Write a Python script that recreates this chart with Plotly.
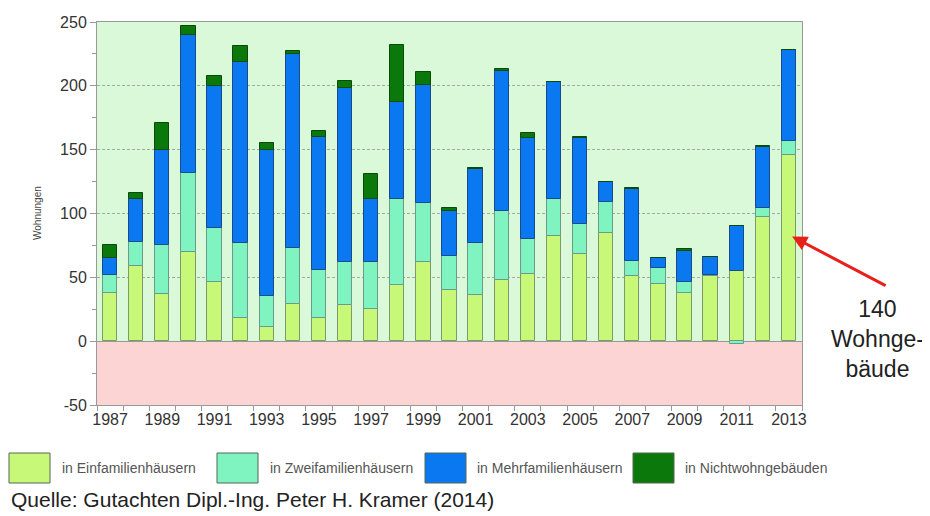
import plotly.graph_objects as go

years = list(range(1987, 2014))
efh = [38, 59, 37, 70, 46, 18, 11, 29, 18, 28, 25, 44, 62, 40, 36, 48, 53, 82, 68, 85, 51, 45, 38, 51, 55, 97, 146]
zfh = [14, 19, 38, 62, 43, 59, 24, 44, 38, 34, 37, 67, 46, 27, 41, 54, 27, 29, 24, 24, 12, 12, 8, 1, -2, 7, 11]
mfh = [13, 33, 75, 108, 111, 142, 115, 152, 104, 136, 49, 76, 93, 35, 58, 110, 79, 92, 67, 16, 56, 8, 25, 14, 35, 48, 71]
nwg = [10, 5, 21, 7, 8, 12, 5, 2, 5, 6, 20, 45, 10, 2, 1, 1, 4, 0, 1, 0, 1, 0, 1, 0, 0, 1, 0]

series_names = ["in Einfamilienhäusern", "in Zweifamilienhäusern", "in Mehrfamilienhäusern", "in Nichtwohngebäuden"]
series_values = [efh, zfh, mfh, nwg]
series_colors = ["#c8f878", "#80f4c0", "#0a78f0", "#0a780a"]
line_colors = ["#7f9a6a", "#6a9a8a", "#1a4a8a", "#0a4a0a"]

y_ticks = [-50, 0, 50, 100, 150, 200, 250]
y_ticktext = ["-50", "0", "50", "100", "150", "200", "250"]
x_ticks = list(range(1987, 2014, 2))

# page body has an 8px margin; figure is sized so it ends at the window edge
OFF = 8
W, H = 930 - OFF, 516 - OFF
ML, MR, MT, MB = 97 - OFF, 128, 22 - OFF, 111
PW, PH = W - ML - MR, H - MT - MB

def px(x):
    return (x - OFF - ML) / PW

def py(y):
    return (H + OFF - MB - y) / PH

fig = go.Figure()
for name, vals, col, lc in zip(series_names, series_values, series_colors, line_colors):
    fig.add_trace(go.Bar(x=years, y=vals, name=name, width=0.55,
                         marker=dict(color=col, line=dict(color=lc, width=1)),
                         showlegend=False))

# pink background below zero
fig.add_shape(type="rect", xref="paper", yref="y", x0=0, x1=1, y0=-50, y1=0,
              fillcolor="#fdd4d4", line=dict(width=0), layer="below")

# custom legend
box_x = [9, 217, 425, 633]
text_x = [60, 268, 475, 683]
for i, (name, col) in enumerate(zip(series_names, series_colors)):
    fig.add_shape(type="rect", xref="paper", yref="paper",
                  x0=px(box_x[i]), x1=px(box_x[i] + 41), y0=py(483), y1=py(453),
                  fillcolor=col, line=dict(color="#556655", width=1))
    fig.add_annotation(xref="paper", yref="paper", x=px(text_x[i]), y=py(468),
                       text=name, showarrow=False, xanchor="left", yanchor="middle",
                       font=dict(family="Liberation Sans, Arial", size=14, color="#555555"))

# source
fig.add_annotation(xref="paper", yref="paper", x=px(10), y=py(499),
                   text="Quelle: Gutachten Dipl.-Ing. Peter H. Kramer (2014)", showarrow=False,
                   xanchor="left", yanchor="middle", borderpad=0,
                   font=dict(family="Liberation Sans, Arial", size=21, color="#222222"))

# y title
fig.add_annotation(xref="paper", yref="paper", x=px(37), y=py(213), text="Wohnungen",
                   showarrow=False, textangle=-90, xanchor="center", yanchor="middle",
                   font=dict(family="Liberation Sans, Arial", size=10, color="#444444"))

# arrow
fig.add_annotation(x=2013.12, y=82, xref="x", yref="y", ax=95, ay=50, text="",
                   showarrow=True, arrowhead=2, arrowsize=1, arrowwidth=3, arrowcolor="#e8201a")
fig.add_annotation(xref="paper", yref="paper", x=px(877), y=py(339),
                   text="140<br>Wohnge-<br>bäude", showarrow=False, xanchor="center", yanchor="middle",
                   font=dict(family="Liberation Sans, Arial", size=23, color="#222222"))

fig.update_layout(
    width=W, height=H, barmode="relative", bargap=0,
    margin=dict(l=ML, r=MR, t=MT, b=MB, autoexpand=False),
    paper_bgcolor="white", plot_bgcolor="#d9f9d9",
    font=dict(family="Liberation Sans, Arial", size=16, color="#333333"),
)
fig.update_xaxes(range=[1986.5, 2013.5], tickvals=x_ticks, ticktext=[str(v) for v in x_ticks],
                 ticks="", showgrid=False, zeroline=False,
                 showline=True, linecolor="#999999", linewidth=1, mirror=True,
                 minor=dict(tick0=1986.5, dtick=1, ticks="outside", ticklen=5, tickcolor="#999999", showgrid=False),
                 tickfont=dict(size=16, color="#333333"))
fig.update_yaxes(range=[-50, 250], tickvals=y_ticks, ticktext=y_ticktext, ticks="outside", ticklen=6, tickcolor="#999999",
                 showgrid=True, gridcolor="#a8a8a8", griddash="3px,2px", gridwidth=1,
                 zeroline=True, zerolinecolor="#999999", zerolinewidth=1,
                 showline=True, linecolor="#999999", linewidth=1, mirror=True,
                 minor=dict(dtick=25, ticks="outside", ticklen=4, tickcolor="#999999", showgrid=False),
                 tickfont=dict(size=16, color="#333333"))

fig.write_html("out.html")
